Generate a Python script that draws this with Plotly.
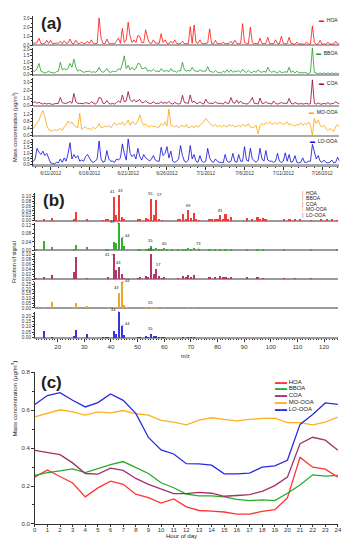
import pandas as pd
import plotly.graph_objects as go

W, H = 356, 550
FONT = "Arial, Liberation Sans, sans-serif"

FACTORS = ["HOA", "BBOA", "COA", "MO-OOA", "LO-OOA"]
TS_COLORS = ["#ff1010", "#1f9f1f", "#990039", "#ffa500", "#0a0ad8"]
MS_COLORS = ["#ee3b3b", "#33b033", "#b0386a", "#f0a428", "#3535e6"]
DI_COLORS = ["#ff3333", "#2aaa2a", "#a3306a", "#ffb020", "#2a2ae0"]

# ---------------- (a) time series, 6-hourly values (00, 06, 12, 18 h) per day from 6/8/2012
TS_START = "2012-06-08"
HOA_TS = [
    [0.2, 0.15, 0.2, 0.25], [0.2, 0.3, 0.8, 0.2], [0.15, 0.2, 0.55, 0.2], [0.55, 0.15, 0.2, 0.25],
    [0.2, 0.45, 0.15, 0.5], [0.2, 0.25, 0.7, 0.2], [0.15, 0.55, 0.2, 0.2], [0.35, 0.15, 0.2, 0.45],
    [0.2, 0.6, 0.2, 0.15], [0.2, 3.1, 0.8, 0.2], [0.15, 0.7, 0.2, 0.15], [0.2, 0.15, 0.45, 0.8],
    [0.2, 1.9, 0.3, 0.6], [2.6, 1.0, 0.3, 0.6], [0.3, 1.1, 1.0, 0.3], [0.3, 1.75, 0.8, 0.25],
    [0.2, 0.6, 0.25, 0.2], [0.2, 1.3, 0.3, 0.6], [0.2, 0.15, 0.45, 0.2], [0.6, 0.2, 0.15, 0.2],
    [0.45, 0.15, 0.2, 0.15], [2.1, 0.2, 2.3, 0.3], [0.2, 0.6, 0.2, 0.15], [0.2, 0.25, 1.85, 0.2],
    [0.15, 0.55, 0.15, 0.2], [0.15, 0.35, 0.15, 0.15], [0.2, 0.45, 0.15, 0.55], [0.2, 0.15, 0.2, 2.45],
    [0.3, 0.2, 0.15, 2.05], [0.3, 0.15, 0.2, 0.15], [0.8, 0.2, 0.15, 0.2], [0.9, 0.15, 0.2, 0.15],
    [0.6, 0.2, 0.15, 1.0], [0.2, 0.15, 0.2, 0.9], [0.2, 0.15, 0.1, 0.35], [0.1, 0.15, 0.1, 0.1],
    [0.35, 0.1, 0.15, 2.2], [0.3, 0.1, 0.15, 0.55], [0.1, 0.15, 0.1, 0.35], [0.1, 0.15, 0.1, 0.45],
    [0.15, 0.1, 0.1, 0.1],
]
BBOA_TS = [
    [0.25, 0.2, 0.2, 0.3], [0.3, 0.5, 0.9, 0.3], [0.2, 0.15, 0.2, 0.3], [0.2, 0.15, 0.15, 0.25],
    [0.3, 1.0, 0.4, 0.5], [0.4, 0.5, 0.9, 0.6], [1.25, 0.6, 0.3, 0.4], [0.3, 0.2, 0.25, 0.3],
    [0.3, 0.2, 0.25, 0.2], [0.3, 0.6, 0.3, 0.2], [0.3, 0.5, 0.25, 0.2], [0.3, 0.25, 0.3, 0.5],
    [0.4, 0.85, 1.5, 0.5], [0.75, 0.4, 0.6, 0.4], [0.5, 0.9, 0.87, 0.5], [0.5, 0.6, 0.3, 0.35],
    [0.3, 0.45, 0.3, 0.3], [0.25, 0.5, 0.3, 0.3], [0.35, 0.25, 0.5, 0.3], [0.3, 0.2, 0.35, 0.3],
    [1.0, 0.4, 0.3, 0.35], [0.3, 0.6, 0.35, 0.3], [0.25, 0.4, 0.3, 0.3], [0.3, 0.65, 0.3, 0.25],
    [0.2, 0.35, 0.2, 0.2], [0.15, 0.3, 0.2, 0.4], [0.2, 0.4, 0.2, 0.3], [0.25, 0.35, 0.2, 0.45],
    [0.25, 0.2, 0.35, 0.2], [0.2, 0.3, 0.2, 0.4], [0.25, 0.2, 0.3, 0.2], [0.6, 0.3, 0.2, 0.3],
    [0.2, 0.15, 0.3, 0.2], [0.2, 0.25, 0.2, 0.6], [0.2, 0.3, 0.15, 0.3], [0.15, 0.2, 0.15, 0.2],
    [0.15, 0.1, 0.2, 2.15], [0.2, 0.15, 0.1, 0.15], [0.1, 0.15, 0.1, 0.15], [0.1, 0.15, 0.1, 0.15],
    [0.1, 0.15, 0.1, 0.1],
]
COA_TS = [
    [0.3, 0.2, 0.3, 0.4], [0.5, 0.3, 0.45, 0.3], [0.2, 0.3, 0.2, 0.3], [0.2, 0.15, 0.25, 0.3],
    [0.3, 1.07, 0.4, 0.3], [0.3, 0.4, 0.55, 0.3], [1.6, 0.5, 0.3, 0.3], [0.3, 0.25, 0.4, 0.3],
    [0.25, 0.5, 0.3, 0.2], [0.4, 1.07, 1.0, 0.3], [0.3, 0.65, 0.3, 0.2], [0.3, 0.2, 0.4, 0.6],
    [0.4, 1.4, 0.5, 0.6], [1.85, 0.8, 0.5, 0.8], [0.5, 0.7, 0.8, 0.4], [0.4, 0.65, 0.4, 0.3],
    [0.3, 0.5, 0.3, 0.3], [0.3, 0.5, 0.3, 0.4], [0.3, 0.55, 0.3, 0.2], [0.4, 0.3, 0.2, 0.3],
    [1.37, 0.4, 0.3, 0.3], [1.4, 0.4, 0.6, 0.3], [0.3, 0.5, 0.3, 0.2], [0.85, 0.4, 0.3, 0.3],
    [0.3, 0.5, 0.3, 0.3], [0.3, 0.2, 0.5, 0.3], [0.3, 1.07, 0.4, 0.3], [0.75, 0.3, 0.6, 0.3],
    [0.3, 0.2, 0.3, 0.6], [1.07, 0.3, 0.3, 0.2], [1.0, 0.3, 0.3, 0.5], [0.3, 0.3, 0.2, 0.6],
    [0.3, 0.2, 0.3, 0.4], [0.3, 0.25, 0.3, 0.95], [0.3, 0.2, 0.4, 0.3], [0.2, 0.3, 0.2, 0.25],
    [0.3, 0.2, 0.25, 3.4], [0.3, 0.2, 0.35, 0.2], [0.2, 0.3, 0.2, 0.4], [0.2, 0.25, 0.3, 0.5],
    [0.3, 0.2, 0.2, 0.2],
]
MOOOA_TS = [
    [0.3, 0.35, 0.4, 0.4], [0.55, 0.7, 0.9, 1.2], [1.45, 1.1, 0.6, 0.35], [0.3, 0.25, 0.35, 0.3],
    [0.35, 0.4, 0.3, 0.5], [0.6, 0.85, 0.7, 0.8], [0.6, 0.5, 0.45, 1.3], [0.35, 0.45, 0.5, 0.4],
    [0.4, 0.35, 0.5, 0.4], [0.5, 0.7, 0.45, 0.5], [0.55, 0.5, 0.6, 0.45], [0.6, 0.75, 0.6, 0.7],
    [0.65, 0.8, 0.6, 0.7], [0.9, 0.6, 0.8, 0.7], [0.65, 0.85, 1.2, 0.8], [0.6, 0.7, 0.55, 0.5],
    [0.6, 0.5, 0.55, 0.45], [0.5, 0.7, 0.6, 0.8], [0.55, 1.55, 0.6, 0.55], [0.5, 0.6, 0.45, 0.55],
    [0.6, 0.5, 0.65, 0.45], [0.5, 0.55, 0.45, 0.6], [0.5, 0.6, 0.75, 0.8], [1.0, 0.85, 0.7, 0.6],
    [0.55, 0.65, 0.5, 0.6], [0.5, 0.6, 0.55, 0.5], [0.65, 0.55, 0.6, 0.5], [0.55, 0.6, 0.5, 0.65],
    [0.6, 0.55, 0.7, 0.5], [0.45, 0.5, 0.6, 0.1], [0.6, 0.7, 0.6, 0.75], [0.7, 0.8, 0.65, 0.7],
    [0.75, 0.65, 0.8, 0.7], [0.65, 0.7, 0.8, 0.6], [0.7, 0.6, 0.55, 0.65], [0.6, 0.75, 0.6, 0.7],
    [0.65, 0.8, 0.6, 0.0], [1.0, 0.7, 0.9, 0.6], [0.5, 0.6, 0.4, 0.3], [0.4, 0.35, 0.25, 0.5],
    [0.65, 0.5, 0.4, 0.4],
]
LOOOA_TS = [
    [0.2, 0.15, 0.2, 0.25], [0.5, 1.45, 1.1, 0.9], [1.2, 0.8, 1.0, 0.5], [0.15, 0.1, 0.05, 0.2],
    [0.15, 0.5, 0.2, 0.6], [0.3, 1.0, 1.95, 0.5], [0.9, 0.6, 0.8, 0.3], [0.4, 0.3, 0.7, 0.9],
    [0.6, 0.3, 0.2, 0.3], [0.5, 2.1, 0.5, 0.2], [0.3, 1.25, 0.5, 0.3], [0.3, 0.2, 0.5, 0.4],
    [0.6, 1.85, 1.0, 0.4], [2.3, 1.0, 0.7, 0.9], [0.5, 1.45, 0.7, 0.4], [0.9, 0.6, 0.5, 0.3],
    [0.5, 0.8, 0.4, 0.3], [0.3, 1.55, 0.8, 1.0], [1.6, 0.6, 1.2, 0.3], [0.2, 0.3, 0.5, 1.7],
    [0.8, 0.3, 0.2, 0.4], [1.7, 0.5, 0.9, 0.3], [0.2, 0.8, 0.3, 0.2], [0.3, 1.45, 0.6, 0.3],
    [0.2, 0.5, 0.3, 0.2], [0.2, 0.15, 0.9, 0.3], [0.2, 0.3, 1.0, 0.3], [0.2, 0.9, 0.3, 0.3],
    [1.6, 0.4, 0.3, 1.45], [0.5, 0.3, 0.2, 0.4], [1.45, 0.5, 0.3, 1.25], [0.4, 0.3, 0.3, 0.2],
    [0.3, 1.0, 0.3, 0.2], [0.3, 1.05, 0.3, 0.9], [0.2, 0.3, 0.8, 0.2], [0.15, 0.2, 0.6, 0.2],
    [0.2, 0.3, 0.3, 1.8], [1.0, 0.5, 0.8, 0.3], [0.2, 0.4, 0.2, 0.15], [0.2, 0.4, 0.15, 0.2],
    [0.65, 0.3, 0.2, 0.2],
]

# ---------------- (b) factor mass spectra
HOA_MZ = [12, 15, 18, 26, 27, 31, 37, 38, 39, 41, 42, 43, 44, 45, 50, 51, 53, 54, 55, 56, 57, 58, 59,
          65, 66, 67, 68, 69, 70, 71, 72, 73, 77, 78, 79, 80, 81, 82, 83, 84, 85, 91, 93, 95, 96, 97, 98,
          105, 107, 109, 111, 115, 119, 121, 123, 125]
HOA_FR = [0.002, 0.004, 0.012, 0.008, 0.037, 0.003, 0.002, 0.003, 0.005, 0.100, 0.022, 0.105, 0.015, 0.003,
          0.003, 0.004, 0.010, 0.008, 0.092, 0.023, 0.088, 0.005, 0.002,
          0.004, 0.003, 0.027, 0.008, 0.044, 0.012, 0.031, 0.003, 0.002,
          0.006, 0.003, 0.008, 0.004, 0.023, 0.008, 0.027, 0.006, 0.015,
          0.010, 0.006, 0.015, 0.005, 0.013, 0.003,
          0.003, 0.004, 0.008, 0.006, 0.002, 0.003, 0.003, 0.004, 0.002]
BBOA_MZ = [12, 15, 18, 26, 27, 31, 38, 39, 41, 42, 43, 44, 45, 50, 51, 53, 54, 55, 56, 57, 58, 59, 60, 61, 63,
           65, 67, 68, 69, 70, 71, 73, 77, 79, 81, 83, 85, 91, 95, 97, 105, 115, 125]
BBOA_FR = [0.005, 0.042, 0.015, 0.005, 0.025, 0.015, 0.003, 0.006, 0.037, 0.034, 0.128, 0.060, 0.022,
           0.004, 0.006, 0.006, 0.004, 0.022, 0.006, 0.012, 0.004, 0.006, 0.012, 0.003, 0.004,
           0.006, 0.008, 0.004, 0.013, 0.004, 0.010, 0.008, 0.006, 0.005, 0.008, 0.006, 0.006,
           0.008, 0.004, 0.004, 0.002, 0.002, 0.002]
COA_MZ = [12, 15, 18, 26, 27, 31, 39, 41, 42, 43, 44, 45, 50, 51, 53, 54, 55, 56, 57, 58, 59, 60,
          65, 67, 68, 69, 70, 71, 77, 79, 81, 82, 83, 84, 85, 91, 95, 97, 105, 109, 115]
COA_FR = [0.002, 0.005, 0.015, 0.027, 0.088, 0.002, 0.008, 0.099, 0.037, 0.048, 0.021, 0.004,
          0.004, 0.008, 0.012, 0.010, 0.101, 0.020, 0.040, 0.012, 0.004, 0.010,
          0.004, 0.012, 0.008, 0.018, 0.008, 0.015, 0.005, 0.008, 0.012, 0.006, 0.010, 0.004, 0.006,
          0.006, 0.005, 0.003, 0.002, 0.002, 0.002]
MOOOA_MZ = [15, 18, 26, 27, 31, 39, 41, 42, 43, 44, 45, 46, 53, 55, 56, 57, 60, 69, 71]
MOOOA_FR = [0.008, 0.060, 0.010, 0.050, 0.024, 0.005, 0.012, 0.015, 0.163, 0.270, 0.035, 0.003,
            0.004, 0.012, 0.003, 0.004, 0.003, 0.005, 0.003]
LOOOA_MZ = [15, 18, 26, 27, 31, 37, 38, 39, 41, 42, 43, 44, 45, 50, 51, 53, 54, 55, 56, 57, 58, 59, 60,
            67, 69, 70, 71]
LOOOA_FR = [0.065, 0.008, 0.010, 0.075, 0.040, 0.003, 0.005, 0.006, 0.069, 0.039, 0.240, 0.110, 0.030,
            0.003, 0.004, 0.010, 0.005, 0.039, 0.010, 0.010, 0.008, 0.004, 0.003,
            0.004, 0.008, 0.004, 0.006]
PEAK_LABELS = [[41, 43, 55, 57, 69, 81], [43, 44, 55, 60, 73], [41, 43, 55, 57], [43, 44, 55], [43, 44, 55]]

# ---------------- (c) diurnal cycles
HOURS = list(range(25))
HOA_DI = [0.247, 0.285, 0.250, 0.216, 0.143, 0.190, 0.226, 0.209, 0.157, 0.139, 0.110, 0.132, 0.090,
          0.071, 0.068, 0.063, 0.052, 0.052, 0.066, 0.075, 0.137, 0.351, 0.299, 0.289, 0.247]
BBOA_DI = [0.256, 0.271, 0.280, 0.290, 0.271, 0.294, 0.313, 0.329, 0.299, 0.266, 0.217, 0.191, 0.157,
           0.148, 0.148, 0.143, 0.130, 0.123, 0.127, 0.123, 0.162, 0.205, 0.259, 0.252, 0.256]
COA_DI = [0.388, 0.376, 0.365, 0.322, 0.266, 0.263, 0.294, 0.282, 0.240, 0.209, 0.186, 0.160, 0.160,
          0.167, 0.162, 0.146, 0.150, 0.155, 0.172, 0.202, 0.247, 0.423, 0.457, 0.442, 0.388]
MOOOA_DI = [0.565, 0.584, 0.602, 0.591, 0.574, 0.591, 0.586, 0.598, 0.581, 0.574, 0.546, 0.537, 0.523,
            0.548, 0.560, 0.551, 0.543, 0.551, 0.557, 0.558, 0.534, 0.534, 0.523, 0.537, 0.563]
LOOOA_DI = [0.630, 0.677, 0.692, 0.652, 0.617, 0.640, 0.685, 0.652, 0.583, 0.456, 0.390, 0.369, 0.318,
            0.317, 0.310, 0.264, 0.264, 0.268, 0.300, 0.306, 0.336, 0.525, 0.577, 0.638, 0.630]

TS = [HOA_TS, BBOA_TS, COA_TS, MOOOA_TS, LOOOA_TS]
MS = [(HOA_MZ, HOA_FR), (BBOA_MZ, BBOA_FR), (COA_MZ, COA_FR), (MOOOA_MZ, MOOOA_FR), (LOOOA_MZ, LOOOA_FR)]
DI = [HOA_DI, BBOA_DI, COA_DI, MOOOA_DI, LOOOA_DI]
for mz, fr in MS:
    assert len(mz) == len(fr)


def fx(px):
    return px / W


def fy(py):
    return 1 - py / H


fig = go.Figure()
AX = dict(showgrid=False, zeroline=False, ticks="outside", tickcolor="#333", linecolor="#333",
          showline=True, linewidth=0.6, tickwidth=0.6)

# ---- panel (a)
a_rows = [(13.3, 43.5, [-0.1, 3.3], 1.0), (45, 74, [-0.1, 2.16], 0.5), (76, 104.5, [-0.1, 3.62], 1.0),
          (106.5, 135, [-0.05, 1.58], 0.4), (137, 164.5, [-0.1, 2.33], 0.5)]
for i, days in enumerate(TS):
    vals = [v for d in days for v in d]
    t = pd.date_range(TS_START, periods=len(vals), freq="6h")
    fig.add_trace(go.Scatter(x=t, y=vals, mode="lines", line=dict(color=TS_COLORS[i], width=0.8),
                             xaxis="x", yaxis=f"y{i + 1}", showlegend=False))
    top, bot, rng, dt = a_rows[i]
    fig.layout[f"yaxis{i + 1}"] = dict(AX, domain=[fy(bot), fy(top)], anchor="x", range=rng, dtick=dt,
                                       tick0=0, tickformat=".1f", ticklen=2,
                                       minor=dict(dtick=dt / 2, ticklen=1, ticks="outside", tickcolor="#333"),
                                       zeroline=True, zerolinecolor="#aaaaaa", zerolinewidth=2,
                                       tickfont=dict(size=4.5, color="#333"))
fig.layout.xaxis = dict(AX, domain=[fx(31.7), fx(343)], anchor="y5", type="date",
                        range=["2012-06-08 18:00", "2012-07-18 05:00"], tick0="2012-06-11",
                        dtick=5 * 86400000, tickformat="%-m/%-d/%Y", ticklen=3, linecolor="#999",
                        minor=dict(dtick=86400000, ticklen=1.5, ticks="outside", tickcolor="#333"),
                        tickfont=dict(size=4.8, color="#333"))

# ---- panel (b)
b_rows = [(192, 220.5, [-0.002, 0.115], 0.02), (222.5, 250.5, [-0.002, 0.129], 0.04),
          (252, 279.8, [-0.002, 0.109], 0.02), (282, 308.8, [-0.005, 0.275], 0.05),
          (312, 338.8, [-0.005, 0.241], 0.05)]
anns = []
leader = {(1, 43): (-6, -2), (1, 44): (6, -2), (1, 73): (0, -5), (2, 41): (-6, 0), (3, 44): (6, -2),
          (4, 43): (-5, -2), (4, 44): (6, -2)}
xshift = {(0, 41): -1.5, (0, 43): 1.5, (0, 57): 3, (2, 57): 2, (3, 43): -2}
for i, (mz, fr) in enumerate(MS):
    ya = f"y{i + 6}"
    fig.add_trace(go.Bar(x=mz, y=fr, marker=dict(color=MS_COLORS[i], line=dict(width=0)), width=0.6,
                         xaxis="x2", yaxis=ya, showlegend=False))
    top, bot, rng, dt = b_rows[i]
    fig.layout[f"yaxis{i + 6}"] = dict(AX, domain=[fy(bot), fy(top)], anchor="x2", range=rng, dtick=dt,
                                       tick0=0, tickformat=".2f", ticklen=2,
                                       minor=dict(dtick=dt / 2, ticklen=1, ticks="outside", tickcolor="#333"),
                                       zeroline=True, zerolinecolor="#9a9a9a", zerolinewidth=1.5,
                                       tickfont=dict(size=4.7, color="#333"))
    for m in PEAK_LABELS[i]:
        v = fr[mz.index(m)]
        if (i, m) in leader:
            axp, ayp = leader[(i, m)]
            anns.append(dict(x=m, y=v, xref="x2", yref=ya, text=str(m), showarrow=True, arrowhead=0,
                             arrowwidth=0.5, arrowcolor="#333", ax=axp, ay=ayp, standoff=0,
                             font=dict(size=4, color="#111")))
        else:
            anns.append(dict(x=m, y=v, xref="x2", yref=ya, text=str(m), showarrow=False,
                             yanchor="bottom", yshift=0.3, xshift=xshift.get((i, m), 0),
                             font=dict(size=4, color="#111")))
fig.layout.xaxis2 = dict(AX, domain=[fx(33.3), fx(341.7)], anchor="y10", range=[11.4, 125.2], dtick=10,
                         tick0=0, ticklen=3, linecolor="#999",
                         minor=dict(dtick=1, ticklen=1.5, ticks="outside", tickcolor="#333"),
                         tickfont=dict(size=6, color="#333"))

# ---- panel (c)
for i, vals in enumerate(DI):
    fig.add_trace(go.Scatter(x=HOURS, y=vals, mode="lines", line=dict(color=DI_COLORS[i], width=1.3),
                             xaxis="x3", yaxis="y11", showlegend=False))
fig.layout.xaxis3 = dict(AX, domain=[fx(33.3), fx(341.7)], anchor="y11", range=[0, 24], dtick=1, ticklen=2.5,
                         ticklabelstandoff=-2, tickfont=dict(size=6, color="#333"))
fig.layout.yaxis11 = dict(AX, domain=[fy(526.7), fy(373.3)], anchor="x3", range=[0, 0.8], dtick=0.2,
                          tickformat=".1f", ticklen=3,
                          minor=dict(dtick=0.1, ticklen=1.5, ticks="outside", tickcolor="#333"),
                          tickfont=dict(size=6, color="#333"))

# ---- texts
def txt(x, y, s, size, **kw):
    d = dict(x=fx(x), y=fy(y), xref="paper", yref="paper", text=s, showarrow=False,
             font=dict(size=size, color="#222", family=FONT))
    d.update(kw)
    anns.append(d)


txt(38, 21, "<b>(a)</b>", 17, xanchor="left", yanchor="middle")
txt(40, 200, "<b>(b)</b>", 17, xanchor="left", yanchor="middle")
txt(38, 384, "<b>(c)</b>", 17, xanchor="left", yanchor="middle")
txt(6.5, 88, "Mass concentration (μg/m<sup>3</sup>)", 5.7, textangle=-90)
txt(7, 262, "Fraction of signal", 5.5, textangle=-90)
txt(6.5, 440, "Mass concentration (μg/m<sup>3</sup>)", 6.2, textangle=-90)
txt(187, 356.5, "m/z", 5.5)
txt(183, 543.5, "Hour of day", 6)

a_leg_y = [17.3, 50.7, 80.7, 110, 140]
for i, name in enumerate(FACTORS):
    txt(344, a_leg_y[i], f"<span style='color:{TS_COLORS[i]}'>▬</span>  {name}", 5,
        xanchor="right", yanchor="middle")
b_leg_y = [191.7, 197.3, 203, 208.7, 214.3]
for i, name in enumerate(FACTORS):
    txt(303, b_leg_y[i], f"<span style='color:{MS_COLORS[i]}'>|</span>  {name}", 5,
        xanchor="left", yanchor="middle")
c_leg_y = [382.7, 389.7, 396.3, 403.2, 410]
for i, name in enumerate(FACTORS):
    txt(276, c_leg_y[i], f"<span style='color:{DI_COLORS[i]}'>▬▬</span> {name}", 6,
        xanchor="left", yanchor="middle")

fig.update_layout(width=W, height=H, margin=dict(l=0, r=0, t=0, b=0), plot_bgcolor="white",
                  paper_bgcolor="white", font=dict(family=FONT, color="#222"), annotations=anns,
                  bargap=0, showlegend=False)
fig.write_html("out.html", config={"displayModeBar": False},
               post_script="document.body.style.margin='0px';")
